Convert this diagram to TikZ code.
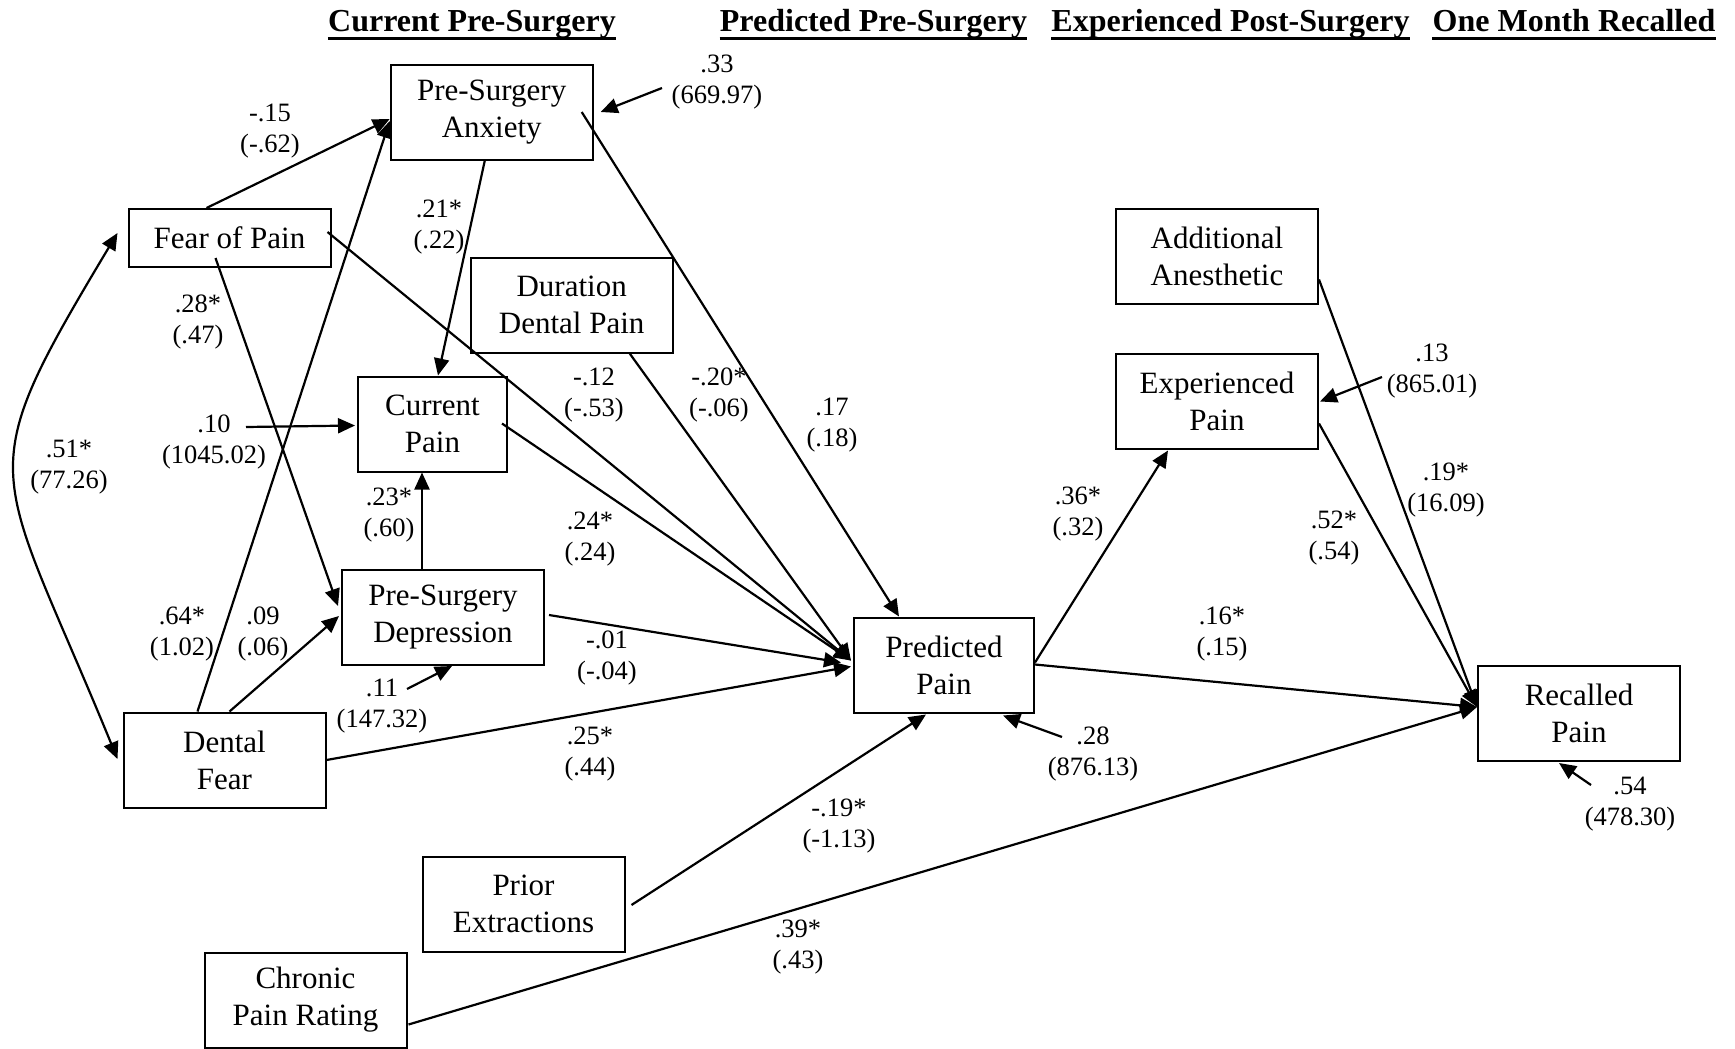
\documentclass[tikz,border=0pt]{standalone}
\usepackage{fontspec}
\setmainfont{Liberation Serif}
\usetikzlibrary{arrows.meta,calc}
\begin{document}
\begin{tikzpicture}[x=1pt,y=-1pt,
  box/.style={draw, line width=2pt, inner sep=0pt, align=center,
    font=\fontsize{31}{37}\selectfont, minimum width=202pt, minimum height=95pt},
  lbl/.style={inner sep=0pt, align=center, font=\fontsize{26.5}{31}\selectfont},
  hdr/.style={inner sep=0pt, anchor=base, font=\fontsize{32}{37}\selectfont\bfseries},
  uline/.style={line width=3pt},
  conn/.style={line width=2.2pt, -{Triangle[length=17pt,width=15pt]}},
  dbl/.style={line width=2.2pt, {Triangle[length=17pt,width=15pt]}-{Triangle[length=17pt,width=15pt]}},
]
\useasboundingbox (0,0) rectangle (1735,1049);

% column headings
\node[hdr] (h1) at (472,32) {Current Pre-Surgery};
\node[hdr] (h2) at (873.5,32) {Predicted Pre-Surgery};
\node[hdr] (h3) at (1230.5,32) {Experienced Post-Surgery};
\node[hdr] (h4) at (1574,32) {One Month Recalled};
\foreach \h in {h1,h2,h3,h4}
  \draw[uline] ($(\h.base west)+(0,7)$) -- ($(\h.base east)+(0,7)$);

% variables
\node[box] (anx) at (491.7,112.5) {Pre-Surgery\\Anxiety};
\node[box, minimum height=58pt] (fear) at (229.5,238) {Fear of Pain};
\node[box] (dur) at (571.7,305) {Duration\\Dental Pain};
\node[box, minimum width=149pt] (cur) at (432.5,424) {Current\\Pain};
\node[box] (dep) at (443,617.5) {Pre-Surgery\\Depression};
\node[box] (dent) at (224.5,760) {Dental\\Fear};
\node[box] (prior) at (523.5,904) {Prior\\Extractions};
\node[box] (chron) at (305.5,1000) {Chronic\\Pain Rating};
\node[box, minimum width=180pt] (pred) at (944,665) {Predicted\\Pain};
\node[box] (add) at (1217,256) {Additional\\Anesthetic};
\node[box] (exp) at (1217,401) {Experienced\\Pain};
\node[box] (rec) at (1579,713.5) {Recalled\\Pain};

% free ends of the residual arrows
\coordinate (eanx) at (662,88);
\coordinate (ecur) at (246,427);
\coordinate (edep) at (407,689);
\coordinate (epred) at (1062,737);
\coordinate (eexp) at (1382,377);
\coordinate (erec) at (1591,785);

% paths into anxiety and current pain
\draw[conn] ($(fear.north west)+(79,0)$) -- ($(anx.north west)+(0,55)$);
\draw[conn] ($(dent.north west)+(75,0)$) -- ($(anx.north west)+(0,57)$);
\draw[conn] ($(anx.south west)+(95,0)$) -- ($(cur.north west)+(81,0)$);
\draw[conn] (eanx) -- ($(anx.north east)+(7,48)$);
\draw[conn] (ecur) -- ($(cur.north west)+(-2,50)$);
\draw[conn] ($(dep.north west)+(81,0)$) -- ($(cur.south west)+(65,0)$);

% paths into depression
\draw[conn] ($(fear.south west)+(88,-10)$) -- ($(dep.north west)+(-3,37)$);
\draw[conn] ($(dent.north west)+(107,0)$) -- ($(dep.north west)+(-2,47)$);
\draw[conn] (edep) -- ($(dep.south west)+(111,0)$);

% paths into predicted pain
\draw[conn] ($(anx.north west)+(192,48)$) -- ($(pred.north west)+(46,0)$);
\draw[conn] ($(fear.north west)+(200,24)$) -- ($(pred.north west)+(-2,44)$);
\draw[conn] ($(dur.south west)+(160,0)$) -- ($(pred.north west)+(-2,44)$);
\draw[conn] ($(cur.north west)+(145,48)$) -- ($(pred.north west)+(-2,44)$);
\draw[conn] ($(dep.north west)+(208,46)$) -- ($(pred.north west)+(-12,46)$);
\draw[conn] (dent.east) -- ($(pred.north west)+(-2,50)$);
\draw[conn] ($(prior.east)+(6,1)$) -- ($(pred.south west)+(73,1)$);
\draw[conn] (epred) -- ($(pred.south west)+(150,2)$);

% later outcomes
\draw[conn] ($(pred.north east)+(0,46)$) -- ($(exp.south west)+(53,1)$);
\draw[conn] (eexp) -- ($(exp.north east)+(1,49)$);
\draw[conn] ($(pred.north east)+(0,48)$) -- ($(rec.north west)+(0,42)$);
\draw[conn] ($(exp.north east)+(0,71)$) -- ($(rec.north west)+(0,42)$);
\draw[conn] ($(add.north east)+(0,72)$) -- ($(rec.north west)+(0,42)$);
\draw[conn] ($(chron.south east)+(1,-24)$) -- ($(rec.north west)+(0,42)$);
\draw[conn] (erec) -- ($(rec.south west)+(82,1)$);

% correlation between the two fear measures
\draw[dbl] ($(fear.west)+(-10,-5)$) .. controls +(-150,250) and +(-123,-300) .. ($(dent.west)+(-5,-1)$);

% coefficients
\node[lbl] (l1) at (717,82.5) {.33\\(669.97)};
\node[lbl] (l2) at (270,131.5) {-.15\\(-.62)};
\node[lbl] (l3) at (439,227.5) {.21*\\(.22)};
\node[lbl] (l4) at (198,322.5) {.28*\\(.47)};
\node[lbl] (l5) at (594,395) {-.12\\(-.53)};
\node[lbl] (l6) at (719,395) {-.20*\\(-.06)};
\node[lbl] (l7) at (832,425.5) {.17\\(.18)};
\node[lbl] (l8) at (214,442.5) {.10\\(1045.02)};
\node[lbl] (l9) at (69,467) {.51*\\(77.26)};
\node[lbl] (l10) at (389,515.5) {.23*\\(.60)};
\node[lbl] (l11) at (182,634) {.64*\\(1.02)};
\node[lbl] (l12) at (263,634) {.09\\(.06)};
\node[lbl] (l13) at (382,706.5) {.11\\(147.32)};
\node[lbl] (l14) at (607,658) {-.01\\(-.04)};
\node[lbl] (l15) at (590,539) {.24*\\(.24)};
\node[lbl] (l16) at (590,754.5) {.25*\\(.44)};
\node[lbl] (l17) at (839,826.5) {-.19*\\(-1.13)};
\node[lbl] (l18) at (798,947.5) {.39*\\(.43)};
\node[lbl] (l19) at (1093,754.5) {.28\\(876.13)};
\node[lbl] (l20) at (1078,514.5) {.36*\\(.32)};
\node[lbl] (l21) at (1222,634.5) {.16*\\(.15)};
\node[lbl] (l22) at (1334,538.5) {.52*\\(.54)};
\node[lbl] (l23) at (1446,490.5) {.19*\\(16.09)};
\node[lbl] (l24) at (1432,371) {.13\\(865.01)};
\node[lbl] (l25) at (1630,804) {.54\\(478.30)};
\end{tikzpicture}
\end{document}
